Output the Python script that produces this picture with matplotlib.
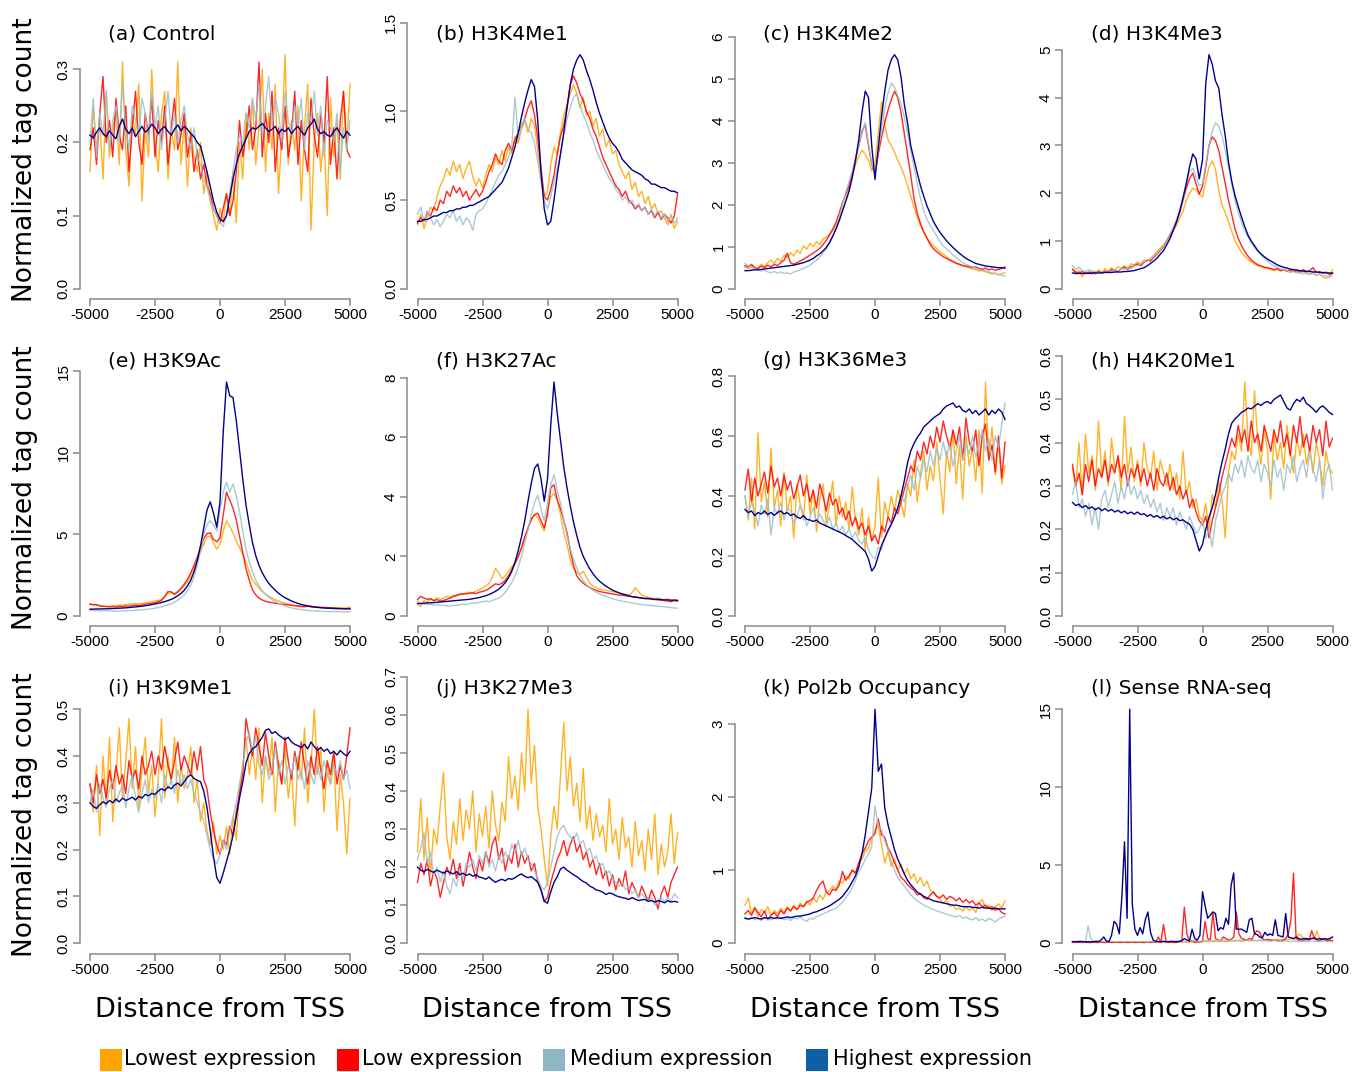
import numpy as np
import matplotlib
matplotlib.use("Agg")
import matplotlib.pyplot as plt
from matplotlib.patches import Rectangle
from matplotlib.ticker import FormatStrFormatter

plt.rcParams['axes.unicode_minus'] = False

# ---------------- data (x grid = -5000..5000 evenly) -------------
# (a) Control
a_lowest = [0.16,0.25,0.19,0.23,0.15,0.27,0.18,0.22,0.24,0.17,
            0.31,0.19,0.14,0.24,0.21,0.28,0.12,0.22,0.18,0.30,
            0.20,0.16,0.24,0.27,0.15,0.22,0.19,0.31,0.17,0.23,
            0.14,0.22,0.18,0.16,0.20,0.13,0.16,0.12,0.10,0.08,
            0.11,0.09,0.13,0.10,0.16,0.09,0.20,0.15,0.24,0.19,
            0.26,0.17,0.22,0.30,0.16,0.24,0.19,0.28,0.13,0.21,
            0.32,0.17,0.23,0.19,0.25,0.12,0.22,0.28,0.08,0.20,
            0.24,0.16,0.21,0.10,0.26,0.18,0.23,0.15,0.27,0.19,0.28]
a_low = [0.19,0.22,0.17,0.24,0.29,0.20,0.23,0.18,0.26,0.21,
         0.19,0.25,0.16,0.22,0.27,0.20,0.17,0.24,0.21,0.26,
         0.18,0.23,0.20,0.25,0.17,0.22,0.26,0.19,0.21,0.24,
         0.18,0.21,0.16,0.19,0.15,0.17,0.14,0.13,0.11,0.10,
         0.09,0.11,0.13,0.10,0.12,0.16,0.23,0.18,0.21,0.25,
         0.19,0.22,0.31,0.18,0.24,0.20,0.27,0.16,0.22,0.19,
         0.25,0.18,0.21,0.27,0.17,0.23,0.19,0.16,0.26,0.21,
         0.18,0.24,0.20,0.29,0.17,0.22,0.15,0.23,0.27,0.19,0.18]
a_medium = [0.20,0.26,0.18,0.24,0.21,0.27,0.19,0.23,0.25,0.20,
            0.28,0.22,0.19,0.25,0.23,0.21,0.26,0.24,0.20,0.27,
            0.22,0.25,0.19,0.23,0.27,0.21,0.24,0.20,0.23,0.25,
            0.21,0.19,0.22,0.18,0.17,0.15,0.14,0.12,0.11,0.10,
            0.09,0.085,0.10,0.13,0.16,0.19,0.21,0.20,0.24,0.22,
            0.26,0.23,0.28,0.21,0.25,0.29,0.22,0.26,0.24,0.20,
            0.27,0.23,0.21,0.25,0.22,0.26,0.19,0.24,0.23,0.27,
            0.21,0.25,0.18,0.23,0.22,0.20,0.24,0.16,0.22,0.19,0.23]
a_highest = [0.210,0.206,0.214,0.220,0.212,0.208,0.216,0.210,0.205,0.222,
             0.232,0.218,0.212,0.220,0.208,0.215,0.222,0.214,0.218,0.225,
             0.220,0.212,0.218,0.222,0.215,0.210,0.218,0.224,0.216,0.222,
             0.218,0.212,0.208,0.200,0.195,0.178,0.160,0.140,0.120,0.105,
             0.095,0.092,0.100,0.125,0.150,0.170,0.185,0.195,0.205,0.215,
             0.220,0.218,0.222,0.226,0.220,0.215,0.218,0.222,0.212,0.218,
             0.215,0.220,0.212,0.218,0.222,0.215,0.210,0.220,0.225,0.232,
             0.218,0.212,0.215,0.210,0.208,0.215,0.220,0.212,0.206,0.215,0.210]

# (b) H3K4Me1
b_lowest = [0.36,0.42,0.34,0.40,0.46,0.44,0.52,0.58,0.62,0.68,
            0.64,0.72,0.66,0.70,0.62,0.68,0.72,0.63,0.58,0.62,
            0.57,0.64,0.70,0.66,0.74,0.70,0.78,0.72,0.80,0.76,
            0.86,0.82,0.90,0.95,0.88,0.96,0.92,0.78,0.62,0.52,
            0.55,0.70,0.80,0.76,0.88,0.98,1.04,1.10,1.15,1.10,
            1.02,1.08,0.98,1.00,0.92,0.96,0.86,0.90,0.80,0.84,
            0.76,0.78,0.70,0.66,0.62,0.66,0.56,0.60,0.52,0.55,
            0.48,0.52,0.45,0.48,0.42,0.44,0.40,0.36,0.42,0.34,0.38]
b_low = [0.37,0.40,0.38,0.43,0.41,0.46,0.44,0.50,0.48,0.55,
         0.52,0.58,0.54,0.57,0.52,0.55,0.50,0.53,0.56,0.52,
         0.55,0.60,0.66,0.70,0.76,0.72,0.70,0.78,0.82,0.78,
         0.84,0.88,0.92,0.96,1.02,1.06,0.98,0.85,0.68,0.52,
         0.50,0.56,0.64,0.76,0.86,0.92,1.02,1.15,1.20,1.16,
         1.10,1.06,1.00,0.96,0.90,0.86,0.80,0.74,0.70,0.66,
         0.62,0.58,0.56,0.52,0.55,0.50,0.48,0.45,0.47,0.44,
         0.46,0.42,0.44,0.40,0.43,0.39,0.42,0.40,0.37,0.41,0.53]
b_medium = [0.42,0.46,0.38,0.44,0.40,0.36,0.39,0.35,0.38,0.42,
            0.40,0.44,0.38,0.41,0.36,0.40,0.38,0.33,0.42,0.44,
            0.45,0.48,0.52,0.56,0.60,0.64,0.66,0.70,0.74,0.80,
            1.08,0.84,0.92,0.96,0.90,0.88,0.82,0.72,0.60,0.50,
            0.45,0.52,0.60,0.68,0.76,0.86,0.96,1.02,1.08,1.10,
            1.04,0.98,0.94,0.88,0.84,0.78,0.74,0.70,0.66,0.62,
            0.60,0.56,0.54,0.50,0.52,0.48,0.50,0.46,0.48,0.44,
            0.46,0.42,0.45,0.41,0.44,0.40,0.42,0.38,0.41,0.37,0.40]
b_highest = [0.38,0.38,0.39,0.39,0.40,0.41,0.41,0.42,0.43,0.43,
             0.44,0.44,0.45,0.45,0.46,0.46,0.47,0.47,0.48,0.49,
             0.50,0.51,0.52,0.54,0.56,0.58,0.60,0.64,0.68,0.74,
             0.80,0.88,0.97,1.05,1.12,1.18,1.14,0.95,0.66,0.45,
             0.36,0.38,0.50,0.64,0.76,0.88,1.02,1.15,1.24,1.29,
             1.32,1.29,1.23,1.18,1.12,1.05,0.99,0.94,0.89,0.85,
             0.82,0.80,0.77,0.73,0.71,0.69,0.67,0.66,0.65,0.64,
             0.62,0.61,0.59,0.59,0.58,0.57,0.57,0.56,0.55,0.55,0.54]

# (c) H3K4Me2
c_lowest = [0.52,0.48,0.55,0.45,0.50,0.58,0.52,0.62,0.68,0.60,
            0.72,0.66,0.80,0.74,0.86,0.78,0.92,0.84,1.02,0.94,
            1.08,1.00,1.12,1.05,1.18,1.22,1.30,1.38,1.50,1.65,
            1.85,2.10,2.35,2.65,2.95,3.15,3.30,3.20,3.05,2.80,
            3.00,3.70,4.45,3.90,3.55,3.40,3.25,3.05,2.90,2.70,
            2.45,2.20,1.95,1.70,1.50,1.35,1.20,1.10,1.02,0.95,
            0.88,0.82,0.76,0.70,0.66,0.62,0.58,0.55,0.52,0.50,
            0.47,0.45,0.42,0.44,0.40,0.38,0.35,0.37,0.33,0.36,0.38]
c_low = [0.55,0.52,0.58,0.50,0.48,0.54,0.50,0.56,0.52,0.58,
         0.55,0.62,0.68,0.84,0.62,0.58,0.62,0.66,0.70,0.75,
         0.80,0.85,0.90,0.96,1.05,1.15,1.28,1.42,1.58,1.80,
         2.05,2.25,2.45,2.75,3.10,3.40,3.75,3.90,3.40,2.95,
         2.75,3.20,3.60,3.95,4.25,4.50,4.70,4.55,4.20,3.70,
         3.20,2.70,2.15,1.80,1.55,1.35,1.20,1.05,0.95,0.88,
         0.82,0.76,0.72,0.68,0.64,0.60,0.58,0.55,0.54,0.52,
         0.50,0.52,0.48,0.46,0.49,0.45,0.47,0.44,0.46,0.48,0.52]
c_medium = [0.60,0.55,0.50,0.48,0.45,0.42,0.44,0.40,0.38,0.41,
            0.37,0.40,0.36,0.38,0.35,0.40,0.42,0.45,0.48,0.52,
            0.56,0.62,0.68,0.76,0.85,0.95,1.08,1.25,1.45,1.70,
            2.00,2.30,2.55,2.80,3.10,3.40,3.70,3.95,3.45,2.95,
            2.80,3.30,3.80,4.30,4.65,4.90,4.80,4.60,4.40,4.10,
            3.70,3.30,2.90,2.50,2.15,1.85,1.65,1.50,1.38,1.25,
            1.12,1.02,0.95,0.88,0.80,0.74,0.68,0.62,0.58,0.55,
            0.52,0.48,0.45,0.42,0.44,0.40,0.38,0.36,0.34,0.32,0.30]
c_highest = [0.43,0.43,0.44,0.45,0.45,0.46,0.47,0.48,0.49,0.50,
             0.51,0.52,0.53,0.54,0.55,0.56,0.58,0.60,0.62,0.65,
             0.68,0.72,0.78,0.83,0.90,0.98,1.10,1.25,1.42,1.62,
             1.85,2.08,2.32,2.65,3.05,3.55,4.20,4.70,4.55,3.40,
             2.60,3.35,4.10,4.70,5.20,5.45,5.57,5.45,5.05,4.40,
             3.95,3.40,3.08,2.75,2.45,2.20,1.97,1.78,1.60,1.46,
             1.34,1.24,1.14,1.06,0.98,0.91,0.84,0.78,0.72,0.68,
             0.64,0.60,0.58,0.56,0.54,0.53,0.52,0.51,0.50,0.50,0.49]

# (d) H3K4Me3
d_lowest = [0.42,0.30,0.38,0.25,0.35,0.32,0.38,0.30,0.40,0.34,
            0.42,0.36,0.44,0.38,0.46,0.42,0.48,0.44,0.52,0.50,
            0.56,0.52,0.60,0.58,0.64,0.70,0.78,0.85,0.92,1.02,
            1.12,1.22,1.32,1.48,1.62,1.85,2.00,2.10,2.08,1.98,
            1.92,2.25,2.55,2.68,2.50,2.05,1.75,1.60,1.40,1.20,
            1.00,0.88,0.76,0.68,0.62,0.56,0.52,0.48,0.46,0.44,
            0.42,0.40,0.38,0.41,0.37,0.40,0.36,0.34,0.38,0.35,
            0.33,0.36,0.32,0.30,0.34,0.28,0.31,0.26,0.22,0.25,0.40]
d_low = [0.40,0.35,0.33,0.36,0.32,0.35,0.31,0.34,0.36,0.33,
         0.37,0.35,0.40,0.38,0.36,0.42,0.45,0.40,0.46,0.48,
         0.52,0.48,0.55,0.60,0.58,0.66,0.72,0.80,0.88,1.00,
         1.12,1.25,1.40,1.60,1.85,2.10,2.30,2.42,2.20,1.98,
         2.15,2.55,3.00,3.18,3.10,2.90,2.55,2.20,1.85,1.55,
         1.25,1.05,0.90,0.78,0.68,0.60,0.55,0.50,0.48,0.45,
         0.44,0.42,0.40,0.42,0.38,0.40,0.37,0.39,0.36,0.38,
         0.35,0.40,0.36,0.38,0.44,0.34,0.36,0.32,0.35,0.30,0.32]
d_medium = [0.48,0.40,0.45,0.38,0.36,0.40,0.34,0.37,0.33,0.36,
            0.34,0.38,0.35,0.40,0.37,0.42,0.40,0.44,0.42,0.48,
            0.48,0.52,0.56,0.58,0.62,0.68,0.74,0.82,0.90,1.00,
            1.15,1.28,1.45,1.65,1.90,2.20,2.45,2.52,2.35,2.15,
            2.20,2.60,3.00,3.30,3.48,3.40,3.20,2.90,2.55,2.20,
            1.85,1.60,1.40,1.22,1.08,0.96,0.86,0.78,0.70,0.64,
            0.58,0.52,0.48,0.45,0.42,0.40,0.38,0.35,0.36,0.33,
            0.34,0.31,0.33,0.30,0.32,0.28,0.30,0.26,0.28,0.24,0.29]
d_highest = [0.33,0.32,0.32,0.32,0.32,0.32,0.33,0.33,0.33,0.33,
             0.34,0.34,0.34,0.35,0.35,0.35,0.36,0.36,0.37,0.38,
             0.40,0.42,0.44,0.48,0.53,0.58,0.64,0.72,0.80,0.92,
             1.05,1.22,1.40,1.62,1.90,2.20,2.55,2.82,2.72,2.30,
             2.70,4.30,4.90,4.70,4.35,4.20,3.65,3.20,2.65,2.25,
             1.95,1.72,1.50,1.30,1.12,1.00,0.90,0.80,0.73,0.67,
             0.62,0.58,0.54,0.50,0.47,0.45,0.43,0.41,0.40,0.39,
             0.38,0.37,0.36,0.36,0.35,0.35,0.34,0.34,0.33,0.33,0.33]

# (e) H3K9Ac
e_lowest = [0.75,0.72,0.68,0.64,0.60,0.58,0.60,0.62,0.64,0.66,
            0.68,0.70,0.72,0.74,0.76,0.74,0.78,0.80,0.84,0.88,
            0.92,0.96,1.02,1.15,1.40,1.42,1.30,1.45,1.65,1.85,
            2.10,2.45,2.90,3.40,3.95,4.40,4.85,4.90,4.50,4.10,
            4.40,5.20,5.85,5.50,5.10,4.60,4.20,3.80,3.30,2.70,
            2.20,1.95,1.70,1.50,1.35,1.20,1.10,1.00,0.92,0.85,
            0.78,0.72,0.68,0.64,0.60,0.58,0.56,0.60,0.62,0.58,
            0.55,0.52,0.50,0.52,0.48,0.50,0.47,0.49,0.46,0.50,0.55]
e_low = [0.72,0.68,0.70,0.62,0.60,0.58,0.56,0.58,0.55,0.60,
         0.58,0.62,0.60,0.64,0.66,0.65,0.68,0.72,0.75,0.78,
         0.82,0.88,0.95,1.20,1.50,1.48,1.35,1.50,1.70,1.95,
         2.25,2.65,3.10,3.60,4.20,4.75,5.05,5.10,4.70,4.55,
         4.80,6.20,7.60,7.10,6.60,5.90,4.90,3.90,2.90,2.20,
         1.60,1.30,1.10,0.98,0.90,0.85,0.82,0.78,0.76,0.72,
         0.70,0.68,0.66,0.63,0.62,0.60,0.58,0.60,0.57,0.55,
         0.54,0.52,0.53,0.50,0.51,0.49,0.48,0.47,0.46,0.45,0.46]
e_medium = [0.35,0.33,0.34,0.32,0.33,0.31,0.32,0.30,0.31,0.30,
            0.32,0.31,0.33,0.34,0.35,0.36,0.38,0.40,0.42,0.45,
            0.48,0.52,0.56,0.62,0.68,0.75,0.85,0.98,1.12,1.30,
            1.55,1.90,2.40,3.10,4.00,5.00,5.60,5.85,5.60,5.20,
            6.50,7.60,8.20,7.60,8.10,7.40,6.40,5.20,4.10,3.30,
            2.70,2.20,1.85,1.55,1.32,1.15,1.00,0.88,0.78,0.70,
            0.62,0.55,0.50,0.46,0.42,0.39,0.36,0.34,0.32,0.31,
            0.30,0.29,0.28,0.28,0.27,0.27,0.26,0.26,0.25,0.25,0.25]
e_highest = [0.42,0.42,0.43,0.43,0.44,0.44,0.45,0.46,0.47,0.48,
             0.49,0.50,0.52,0.54,0.56,0.58,0.60,0.63,0.66,0.70,
             0.74,0.78,0.83,0.88,0.95,1.02,1.12,1.24,1.38,1.58,
             1.85,2.20,2.70,3.40,4.30,5.40,6.50,7.00,6.30,5.45,
             7.00,11.30,14.35,13.50,13.40,12.00,10.20,8.40,6.80,5.60,
             4.50,3.70,3.10,2.65,2.30,2.00,1.78,1.58,1.40,1.25,
             1.12,1.02,0.92,0.84,0.77,0.71,0.66,0.62,0.58,0.55,
             0.53,0.51,0.49,0.48,0.47,0.46,0.45,0.45,0.44,0.44,0.44]

# (f) H3K27Ac
f_lowest = [0.40,0.32,0.52,0.45,0.58,0.50,0.62,0.55,0.60,0.66,
            0.62,0.70,0.66,0.75,0.72,0.78,0.80,0.76,0.84,0.88,
            0.95,1.00,1.10,1.30,1.60,1.45,1.25,1.35,1.50,1.65,
            1.80,2.00,2.25,2.60,2.95,3.20,3.40,3.30,3.05,2.85,
            3.55,4.00,4.10,3.90,3.40,2.80,2.40,1.90,1.60,1.45,
            1.40,1.50,1.30,1.10,1.00,0.95,0.90,0.88,0.86,0.84,
            0.82,0.80,0.76,0.74,0.72,0.70,0.78,0.95,0.82,0.70,
            0.66,0.62,0.60,0.58,0.60,0.56,0.55,0.58,0.52,0.55,0.54]
f_low = [0.55,0.66,0.60,0.56,0.58,0.52,0.55,0.50,0.52,0.56,
         0.60,0.65,0.70,0.72,0.75,0.74,0.76,0.78,0.75,0.80,
         0.82,0.86,0.92,1.00,1.08,1.05,1.10,1.20,1.35,1.55,
         1.75,2.00,2.30,2.65,2.95,3.25,3.40,3.45,3.20,2.95,
         3.40,4.30,4.40,3.90,3.60,3.20,2.80,2.20,1.70,1.35,
         1.20,1.10,1.02,0.96,0.90,0.86,0.82,0.80,0.78,0.76,
         0.74,0.72,0.70,0.70,0.68,0.66,0.65,0.64,0.62,0.60,
         0.58,0.60,0.57,0.55,0.54,0.53,0.52,0.50,0.48,0.52,0.50]
f_medium = [0.50,0.42,0.40,0.38,0.40,0.36,0.38,0.35,0.36,0.34,
            0.33,0.36,0.35,0.38,0.40,0.38,0.42,0.44,0.43,0.46,
            0.48,0.50,0.48,0.52,0.56,0.60,0.68,0.80,0.95,1.12,
            1.35,1.65,2.00,2.45,2.90,3.40,3.80,4.05,3.60,3.20,
            3.80,4.40,4.75,4.20,3.80,3.20,2.70,2.25,1.90,1.60,
            1.35,1.18,1.05,0.95,0.86,0.80,0.74,0.70,0.66,0.62,
            0.58,0.55,0.52,0.50,0.48,0.46,0.44,0.42,0.40,0.38,
            0.37,0.36,0.35,0.34,0.33,0.32,0.31,0.30,0.28,0.27,0.26]
f_highest = [0.42,0.42,0.43,0.44,0.44,0.45,0.46,0.47,0.48,0.49,
             0.50,0.51,0.52,0.53,0.54,0.55,0.56,0.58,0.60,0.62,
             0.65,0.68,0.72,0.77,0.83,0.90,1.00,1.12,1.28,1.50,
             1.80,2.20,2.65,3.20,3.85,4.45,4.95,5.10,4.60,3.85,
             4.60,6.40,7.85,6.80,5.90,5.00,4.30,3.70,3.15,2.70,
             2.30,2.00,1.78,1.58,1.42,1.28,1.17,1.08,1.00,0.93,
             0.87,0.82,0.78,0.74,0.71,0.68,0.65,0.63,0.62,0.60,
             0.59,0.58,0.57,0.56,0.56,0.55,0.54,0.54,0.53,0.53,0.52]

# (g) H3K36Me3
g_lowest = [0.40,0.32,0.46,0.29,0.61,0.38,0.45,0.33,0.56,0.36,
            0.42,0.30,0.48,0.35,0.40,0.26,0.44,0.37,0.32,0.47,
            0.34,0.42,0.28,0.39,0.44,0.31,0.37,0.45,0.30,0.40,
            0.33,0.38,0.29,0.43,0.32,0.27,0.36,0.22,0.33,0.25,
            0.30,0.46,0.26,0.38,0.33,0.40,0.35,0.42,0.38,0.33,
            0.44,0.40,0.52,0.38,0.47,0.55,0.42,0.50,0.45,0.58,
            0.46,0.34,0.55,0.48,0.62,0.44,0.57,0.39,0.60,0.50,
            0.56,0.45,0.62,0.41,0.78,0.52,0.63,0.47,0.58,0.44,0.50]
g_low = [0.42,0.49,0.38,0.46,0.40,0.44,0.48,0.41,0.50,0.43,
         0.46,0.40,0.47,0.42,0.45,0.39,0.43,0.47,0.40,0.44,
         0.38,0.42,0.36,0.44,0.40,0.35,0.41,0.37,0.39,0.34,
         0.36,0.32,0.35,0.30,0.33,0.29,0.31,0.27,0.30,0.25,
         0.27,0.24,0.30,0.28,0.33,0.31,0.36,0.34,0.38,0.42,
         0.46,0.50,0.48,0.55,0.52,0.58,0.54,0.60,0.56,0.63,
         0.58,0.65,0.60,0.56,0.62,0.57,0.63,0.52,0.66,0.58,
         0.55,0.62,0.50,0.60,0.64,0.52,0.57,0.48,0.60,0.46,0.58]
g_medium = [0.40,0.33,0.38,0.35,0.30,0.37,0.34,0.39,0.27,0.36,
            0.34,0.38,0.32,0.36,0.35,0.31,0.33,0.37,0.34,0.30,
            0.33,0.36,0.31,0.34,0.32,0.30,0.33,0.29,0.31,0.28,
            0.30,0.27,0.29,0.26,0.28,0.25,0.24,0.26,0.22,0.20,
            0.19,0.23,0.22,0.26,0.28,0.31,0.33,0.36,0.40,0.38,
            0.43,0.47,0.42,0.50,0.46,0.52,0.48,0.55,0.50,0.56,
            0.52,0.58,0.53,0.57,0.50,0.55,0.60,0.52,0.57,0.54,
            0.60,0.53,0.58,0.62,0.55,0.59,0.52,0.60,0.56,0.64,0.71]
g_highest = [0.355,0.345,0.350,0.335,0.345,0.340,0.350,0.338,0.345,0.335,
             0.345,0.350,0.340,0.345,0.335,0.340,0.330,0.325,0.335,0.322,
             0.320,0.315,0.320,0.310,0.305,0.300,0.295,0.290,0.285,0.280,
             0.275,0.268,0.262,0.255,0.245,0.235,0.225,0.215,0.190,0.150,
             0.165,0.200,0.235,0.260,0.285,0.305,0.330,0.360,0.400,0.450,
             0.510,0.550,0.575,0.595,0.610,0.630,0.640,0.650,0.660,0.668,
             0.675,0.690,0.700,0.705,0.710,0.695,0.700,0.685,0.680,0.690,
             0.675,0.685,0.670,0.680,0.690,0.670,0.685,0.675,0.690,0.680,0.655]

# (h) H4K20Me1
h_lowest = [0.34,0.30,0.40,0.28,0.42,0.33,0.37,0.29,0.45,0.32,
            0.38,0.30,0.41,0.34,0.36,0.29,0.46,0.33,0.39,0.31,
            0.36,0.30,0.40,0.34,0.32,0.38,0.29,0.36,0.33,0.30,
            0.35,0.29,0.33,0.27,0.38,0.28,0.31,0.25,0.27,0.23,
            0.22,0.26,0.20,0.28,0.25,0.31,0.27,0.18,0.33,0.38,
            0.36,0.42,0.38,0.54,0.41,0.37,0.52,0.40,0.35,0.43,
            0.38,0.27,0.42,0.36,0.40,0.34,0.44,0.38,0.33,0.41,
            0.37,0.42,0.35,0.39,0.33,0.40,0.36,0.30,0.38,0.34,0.33]
h_low = [0.35,0.30,0.33,0.28,0.35,0.31,0.36,0.30,0.34,0.32,
         0.36,0.31,0.35,0.33,0.37,0.32,0.35,0.30,0.34,0.32,
         0.35,0.31,0.34,0.30,0.33,0.29,0.34,0.31,0.30,0.33,
         0.29,0.32,0.28,0.30,0.27,0.29,0.25,0.27,0.24,0.22,
         0.21,0.23,0.18,0.22,0.25,0.28,0.32,0.35,0.38,0.41,
         0.39,0.44,0.40,0.43,0.38,0.45,0.40,0.42,0.38,0.44,
         0.41,0.38,0.43,0.40,0.45,0.39,0.42,0.37,0.44,0.40,
         0.46,0.39,0.42,0.38,0.44,0.40,0.43,0.37,0.45,0.39,0.41]
h_medium = [0.28,0.31,0.25,0.27,0.23,0.26,0.21,0.25,0.20,0.27,
            0.29,0.25,0.28,0.31,0.26,0.30,0.27,0.32,0.28,0.30,
            0.27,0.29,0.26,0.28,0.25,0.27,0.24,0.26,0.22,0.25,
            0.23,0.25,0.21,0.24,0.22,0.20,0.23,0.21,0.19,0.20,
            0.22,0.18,0.20,0.16,0.22,0.25,0.28,0.30,0.33,0.31,
            0.35,0.33,0.36,0.32,0.37,0.34,0.33,0.36,0.31,0.35,
            0.33,0.30,0.36,0.32,0.34,0.29,0.35,0.33,0.37,0.31,
            0.34,0.36,0.32,0.38,0.34,0.31,0.36,0.27,0.33,0.35,0.29]
h_highest = [0.262,0.255,0.258,0.250,0.255,0.248,0.252,0.245,0.250,0.243,
             0.248,0.242,0.246,0.240,0.244,0.238,0.242,0.236,0.240,0.235,
             0.240,0.234,0.236,0.230,0.234,0.228,0.232,0.226,0.230,0.224,
             0.228,0.222,0.226,0.220,0.222,0.216,0.212,0.200,0.175,0.150,
             0.165,0.200,0.228,0.250,0.280,0.320,0.355,0.385,0.420,0.445,
             0.455,0.462,0.470,0.474,0.480,0.478,0.484,0.490,0.486,0.492,
             0.495,0.490,0.500,0.505,0.510,0.495,0.480,0.475,0.490,0.500,
             0.495,0.505,0.490,0.485,0.478,0.470,0.480,0.485,0.478,0.470,0.465]

# (i) H3K9Me1
i_lowest = [0.34,0.28,0.38,0.23,0.40,0.30,0.44,0.26,0.36,0.46,
            0.31,0.39,0.48,0.33,0.42,0.29,0.37,0.44,0.32,0.38,
            0.27,0.35,0.48,0.31,0.40,0.34,0.44,0.30,0.38,0.33,
            0.36,0.42,0.30,0.35,0.26,0.30,0.24,0.21,0.26,0.19,
            0.23,0.20,0.25,0.19,0.27,0.22,0.33,0.38,0.44,0.36,
            0.42,0.35,0.46,0.30,0.40,0.36,0.44,0.28,0.39,0.34,
            0.42,0.31,0.37,0.25,0.40,0.35,0.46,0.30,0.38,0.50,
            0.36,0.42,0.28,0.38,0.34,0.40,0.24,0.36,0.30,0.19,0.31]
i_low = [0.34,0.30,0.36,0.32,0.35,0.31,0.37,0.33,0.38,0.34,
         0.36,0.32,0.39,0.35,0.37,0.33,0.40,0.36,0.38,0.41,
         0.36,0.40,0.37,0.42,0.38,0.35,0.39,0.43,0.37,0.40,
         0.38,0.36,0.41,0.37,0.42,0.35,0.33,0.28,0.24,0.21,
         0.19,0.22,0.21,0.25,0.23,0.28,0.32,0.36,0.48,0.44,
         0.40,0.46,0.42,0.38,0.45,0.40,0.36,0.43,0.38,0.34,
         0.44,0.39,0.35,0.41,0.37,0.43,0.38,0.34,0.40,0.36,
         0.42,0.37,0.33,0.39,0.36,0.41,0.34,0.38,0.35,0.40,0.46]
i_medium = [0.30,0.33,0.28,0.34,0.31,0.29,0.33,0.35,0.30,0.32,
            0.34,0.29,0.33,0.36,0.31,0.28,0.32,0.35,0.30,0.33,
            0.31,0.34,0.30,0.36,0.33,0.35,0.32,0.37,0.34,0.36,
            0.33,0.35,0.32,0.30,0.28,0.26,0.23,0.20,0.18,0.17,
            0.19,0.22,0.20,0.24,0.27,0.30,0.34,0.38,0.43,0.45,
            0.41,0.44,0.38,0.36,0.40,0.35,0.37,0.42,0.36,0.39,
            0.34,0.38,0.36,0.40,0.35,0.37,0.33,0.39,0.36,0.34,
            0.38,0.35,0.39,0.36,0.34,0.38,0.36,0.39,0.35,0.37,0.33]
i_highest = [0.300,0.292,0.288,0.296,0.302,0.298,0.305,0.300,0.308,0.302,
             0.310,0.305,0.308,0.312,0.306,0.314,0.310,0.318,0.315,0.320,
             0.318,0.325,0.330,0.326,0.334,0.330,0.338,0.342,0.336,0.345,
             0.355,0.360,0.352,0.348,0.345,0.325,0.290,0.240,0.185,0.140,
             0.128,0.150,0.175,0.200,0.230,0.270,0.310,0.345,0.385,0.405,
             0.415,0.420,0.430,0.440,0.455,0.458,0.448,0.452,0.445,0.440,
             0.435,0.440,0.430,0.425,0.422,0.418,0.425,0.415,0.430,0.420,
             0.412,0.418,0.410,0.415,0.405,0.410,0.402,0.412,0.405,0.400,0.410]

# (j) H3K27Me3
j_lowest = [0.24,0.38,0.22,0.33,0.18,0.30,0.26,0.36,0.45,0.28,
            0.22,0.32,0.26,0.38,0.27,0.35,0.30,0.40,0.24,0.34,
            0.28,0.36,0.25,0.40,0.31,0.27,0.37,0.32,0.49,0.38,
            0.44,0.35,0.50,0.40,0.615,0.42,0.52,0.36,0.30,0.22,
            0.15,0.28,0.36,0.30,0.44,0.58,0.40,0.49,0.36,0.42,
            0.32,0.46,0.30,0.36,0.27,0.34,0.28,0.31,0.24,0.38,
            0.26,0.30,0.22,0.33,0.25,0.28,0.20,0.32,0.23,0.27,
            0.19,0.30,0.22,0.34,0.18,0.26,0.20,0.24,0.34,0.21,0.29]
j_low = [0.16,0.21,0.18,0.22,0.15,0.19,0.17,0.12,0.16,0.20,
         0.18,0.22,0.17,0.21,0.15,0.19,0.24,0.20,0.17,0.22,
         0.19,0.24,0.21,0.26,0.28,0.22,0.25,0.19,0.23,0.21,
         0.26,0.20,0.24,0.21,0.23,0.19,0.21,0.16,0.14,0.11,
         0.12,0.16,0.19,0.22,0.24,0.27,0.23,0.26,0.28,0.24,
         0.26,0.22,0.24,0.20,0.22,0.18,0.21,0.17,0.19,0.15,
         0.18,0.14,0.17,0.15,0.19,0.13,0.16,0.14,0.12,0.15,
         0.13,0.11,0.14,0.12,0.09,0.13,0.15,0.12,0.16,0.18,0.20]
j_medium = [0.22,0.25,0.29,0.21,0.24,0.18,0.20,0.16,0.19,0.15,
            0.13,0.17,0.15,0.19,0.17,0.21,0.20,0.22,0.19,0.23,
            0.21,0.24,0.20,0.22,0.19,0.23,0.21,0.24,0.22,0.26,
            0.24,0.27,0.23,0.25,0.22,0.21,0.19,0.17,0.15,0.14,
            0.16,0.20,0.24,0.28,0.30,0.31,0.29,0.28,0.27,0.29,
            0.26,0.27,0.24,0.25,0.22,0.23,0.20,0.21,0.18,0.19,
            0.17,0.16,0.15,0.16,0.14,0.15,0.13,0.14,0.12,0.13,
            0.12,0.11,0.12,0.10,0.11,0.12,0.11,0.12,0.11,0.13,0.12]
j_highest = [0.200,0.192,0.188,0.194,0.190,0.186,0.192,0.188,0.184,0.190,
             0.186,0.182,0.188,0.180,0.184,0.178,0.182,0.176,0.180,0.174,
             0.172,0.168,0.174,0.166,0.160,0.165,0.168,0.164,0.170,0.168,
             0.172,0.178,0.182,0.176,0.172,0.175,0.168,0.160,0.140,0.110,
             0.105,0.135,0.160,0.175,0.195,0.200,0.192,0.186,0.180,0.175,
             0.168,0.162,0.158,0.150,0.146,0.140,0.138,0.134,0.128,0.132,
             0.130,0.125,0.122,0.120,0.118,0.115,0.120,0.116,0.112,0.114,
             0.115,0.110,0.112,0.108,0.112,0.110,0.106,0.112,0.108,0.110,0.108]

# (k) Pol2b Occupancy
k_lowest = [0.52,0.62,0.40,0.50,0.36,0.46,0.42,0.50,0.38,0.45,
            0.40,0.48,0.42,0.50,0.44,0.52,0.46,0.55,0.50,0.58,
            0.52,0.62,0.56,0.66,0.60,0.70,0.72,0.78,0.74,0.85,
            0.82,0.92,0.88,1.00,0.95,1.10,1.15,1.25,1.30,1.42,
            1.55,1.60,1.35,1.10,1.25,1.05,1.15,1.00,1.08,0.95,
            1.02,0.88,0.95,0.82,0.90,0.78,0.85,0.72,0.70,0.64,
            0.60,0.55,0.58,0.50,0.52,0.46,0.48,0.44,0.50,0.45,
            0.48,0.42,0.55,0.60,0.48,0.52,0.45,0.50,0.54,0.48,0.58]
k_low = [0.40,0.45,0.38,0.48,0.42,0.36,0.44,0.32,0.38,0.42,
         0.36,0.45,0.40,0.48,0.44,0.50,0.46,0.52,0.50,0.56,
         0.58,0.62,0.72,0.80,0.85,0.70,0.66,0.74,0.72,0.80,
         0.98,0.86,0.92,1.00,0.96,1.10,1.22,1.30,1.40,1.45,
         1.50,1.70,1.48,1.45,1.30,1.22,1.10,1.00,0.90,0.86,
         0.80,0.76,0.72,0.66,0.68,0.62,0.60,0.66,0.70,0.64,
         0.62,0.66,0.60,0.64,0.62,0.58,0.62,0.56,0.60,0.55,
         0.58,0.52,0.55,0.50,0.52,0.48,0.50,0.45,0.47,0.42,0.40]
k_medium = [0.36,0.33,0.35,0.32,0.34,0.31,0.35,0.33,0.32,0.34,
            0.33,0.35,0.32,0.34,0.31,0.35,0.33,0.36,0.32,0.30,
            0.34,0.33,0.36,0.38,0.40,0.42,0.44,0.46,0.48,0.52,
            0.56,0.62,0.68,0.76,0.86,0.98,1.05,1.15,1.22,1.32,
            1.88,1.60,1.55,1.40,1.28,1.12,1.00,0.90,0.84,0.78,
            0.72,0.66,0.62,0.58,0.55,0.52,0.50,0.48,0.46,0.44,
            0.43,0.41,0.40,0.38,0.37,0.36,0.38,0.34,0.36,0.33,
            0.32,0.35,0.31,0.33,0.30,0.34,0.32,0.29,0.33,0.35,0.37]
k_highest = [0.34,0.33,0.34,0.35,0.34,0.33,0.35,0.34,0.35,0.34,
             0.35,0.34,0.35,0.36,0.35,0.36,0.37,0.37,0.38,0.39,
             0.40,0.42,0.43,0.45,0.47,0.49,0.51,0.54,0.57,0.60,
             0.64,0.70,0.76,0.84,0.92,1.04,1.22,1.48,1.80,2.12,
             3.20,2.35,2.45,1.85,1.62,1.45,1.28,1.15,1.05,0.95,
             0.86,0.80,0.75,0.70,0.67,0.64,0.62,0.60,0.58,0.57,
             0.56,0.55,0.54,0.53,0.52,0.52,0.51,0.50,0.50,0.50,
             0.49,0.49,0.48,0.49,0.48,0.48,0.47,0.48,0.47,0.47,0.47]

# (l) Sense RNA-seq (finer grid)
l_lowest = [0.05,0.05,0.06,0.05,0.05,0.06,0.05,0.05,0.06,0.05,
            0.05,0.06,0.05,0.05,0.06,0.05,0.05,0.06,0.05,0.05,
            0.06,0.05,0.05,0.06,0.05,0.05,0.06,0.05,0.05,0.06,
            0.05,0.06,0.05,0.06,0.05,0.06,0.05,0.06,0.05,0.06,
            0.06,0.07,0.06,0.08,0.06,0.07,0.08,0.06,0.10,0.08,
            0.10,0.12,0.10,0.15,0.10,0.12,0.10,0.15,0.12,0.10,
            0.12,0.15,0.12,0.18,0.15,0.12,0.15,0.18,0.15,0.20,
            0.18,0.15,0.20,0.18,0.15,0.20,0.22,0.18,0.20,0.25,
            0.20,0.22,0.25,0.20,0.30,0.25,0.30,0.60,0.50,0.25,
            0.20,0.25,0.30,0.25,0.80,0.30,0.20,0.25,0.20,0.15,0.20]
l_low = [0.05,0.05,0.06,0.05,0.05,0.06,0.05,0.05,0.06,0.05,
         0.05,0.06,0.05,0.05,0.06,0.05,0.05,0.06,0.05,0.05,
         0.06,0.05,0.05,0.06,0.05,0.05,0.06,0.05,0.05,0.10,
         0.05,0.08,0.05,0.40,0.05,1.20,0.10,0.05,0.06,0.05,
         0.05,0.10,0.15,2.30,0.60,0.10,0.15,0.05,0.10,0.08,
         0.12,1.40,0.30,0.20,2.00,0.30,0.20,0.15,0.40,0.30,
         0.20,0.25,0.40,2.00,0.60,0.30,0.25,0.20,0.30,0.25,
         0.60,0.80,0.70,0.30,0.20,0.25,0.20,0.18,0.20,0.15,
         0.15,0.20,0.30,0.60,1.50,4.50,0.30,0.20,0.15,0.20,
         0.25,0.20,0.80,0.30,0.20,0.15,0.30,0.20,0.15,0.20,0.15]
l_medium = [0.10,0.10,0.12,0.10,0.10,0.12,1.10,0.30,0.10,0.12,
            0.10,0.10,0.12,0.10,0.10,0.12,0.10,0.10,0.12,0.10,
            0.10,0.12,0.10,0.10,0.12,0.10,0.10,0.12,0.10,0.10,
            0.12,0.10,0.10,0.12,0.10,0.10,0.12,0.10,0.10,0.12,
            0.12,0.10,0.15,0.12,0.10,0.15,0.12,0.18,0.15,0.12,
            0.15,0.20,0.15,0.18,0.15,0.20,0.18,0.15,0.20,0.18,
            0.15,0.20,0.18,0.15,0.20,0.18,0.15,0.20,0.18,0.15,
            0.18,0.15,0.20,0.15,0.18,0.15,0.12,0.15,0.18,0.12,
            0.15,0.12,0.15,0.12,0.10,0.15,0.12,0.10,0.15,0.12,
            0.10,0.12,0.15,0.10,0.12,0.10,0.12,0.15,0.10,0.12,0.10]
l_highest = [0.10,0.10,0.10,0.12,0.10,0.08,0.10,0.08,0.10,0.12,
             0.10,0.20,0.40,0.15,0.10,0.50,1.40,1.20,0.60,3.00,
             6.50,1.60,15.00,2.50,0.90,0.50,1.00,0.60,1.50,2.00,
             0.70,0.20,0.12,0.10,0.10,0.12,0.10,0.10,0.12,0.10,
             0.10,0.12,0.15,0.30,0.20,0.15,0.90,0.30,0.20,0.50,
             3.30,2.40,1.60,1.80,2.00,1.90,0.80,1.00,0.90,1.60,
             1.20,3.70,4.50,0.90,0.90,0.90,0.80,0.70,1.50,1.60,
             0.60,0.55,0.40,0.35,0.70,0.50,0.60,0.50,1.50,0.50,
             0.45,0.40,1.90,0.40,0.35,0.30,0.40,0.30,0.25,0.30,
             0.30,0.25,0.30,0.35,0.25,0.30,0.25,0.30,0.25,0.30,0.40]

panel_titles = ["(a) Control", "(b) H3K4Me1", "(c) H3K4Me2", "(d) H3K4Me3",
                "(e) H3K9Ac", "(f) H3K27Ac", "(g) H3K36Me3", "(h) H4K20Me1",
                "(i) H3K9Me1", "(j) H3K27Me3", "(k) Pol2b Occupancy", "(l) Sense RNA-seq"]
panel_series = [
    (a_lowest, a_low, a_medium, a_highest), (b_lowest, b_low, b_medium, b_highest),
    (c_lowest, c_low, c_medium, c_highest), (d_lowest, d_low, d_medium, d_highest),
    (e_lowest, e_low, e_medium, e_highest), (f_lowest, f_low, f_medium, f_highest),
    (g_lowest, g_low, g_medium, g_highest), (h_lowest, h_low, h_medium, h_highest),
    (i_lowest, i_low, i_medium, i_highest), (j_lowest, j_low, j_medium, j_highest),
    (k_lowest, k_low, k_medium, k_highest), (l_lowest, l_low, l_medium, l_highest),
]
xticks = [-5000, -2500, 0, 2500, 5000]
xtick_labels = ["-5000", "-2500", "0", "2500", "5000"]
series_names = ["Lowest expression", "Low expression", "Medium expression", "Highest expression"]

# ---------------- style ----------------
ytick_steps = [0.1, 0.5, 1, 1, 5, 2, 0.2, 0.1, 0.1, 0.1, 1, 5]
ytick_fmts = ["%.1f", "%.1f", "%d", "%d", "%d", "%d", "%.1f", "%.1f", "%.1f", "%.1f", "%d", "%d"]
line_colors = ["#FFA500", "#FF0000", "#9AC0CD", "#00008B"]
line_alpha = [0.85, 0.85, 0.85, 1.0]
legend_colors = ["#FFA500", "#FF0000", "#8DB7C5", "#0F5FA8"]
axis_gray = "#8a8a8a"
tick_font = "Liberation Sans"

W, H = 1364, 1072
fig = plt.figure(figsize=(W / 100, H / 100), dpi=100)
row_tops = [21.0, 348.3, 675.5]
ax_h = 278.0
ax_w = 280.8

for k in range(12):
    r, c = divmod(k, 4)
    left = 79.6 + 327.5 * c
    top = row_tops[r]
    ax = fig.add_axes([left / W, 1 - (top + ax_h) / H, ax_w / W, ax_h / H])
    series = panel_series[k]
    M = 1.1 * max(max(s) for s in series)
    for s, col, al in zip(series, line_colors, line_alpha):
        x = np.linspace(-5000, 5000, len(s))
        ax.plot(x, s, color=col, lw=1.0, alpha=al, solid_joinstyle='round')
    ax.set_xlim(-5400, 5400)
    ax.set_ylim(-0.04 * M, 1.04 * M)
    step = ytick_steps[k]
    yt = np.arange(0, 1.04 * M + 1e-9, step)
    ax.set_yticks(yt)
    ax.yaxis.set_major_formatter(FormatStrFormatter(ytick_fmts[k]))
    ax.set_xticks(xticks)
    ax.set_xticklabels(xtick_labels)
    for side in ("top", "right"):
        ax.spines[side].set_visible(False)
    ax.spines["left"].set_bounds(0, yt[-1])
    ax.spines["bottom"].set_bounds(-5000, 5000)
    for side in ("left", "bottom"):
        ax.spines[side].set_color(axis_gray)
        ax.spines[side].set_linewidth(1.1)
    ax.tick_params(axis="both", length=5, width=1.1, color=axis_gray, pad=1.5,
                   labelsize=11)
    ax.tick_params(axis="y", labelrotation=90)
    for lab in ax.get_yticklabels():
        lab.set_va("center")
        lab.set_family(tick_font)
    for lab in ax.get_xticklabels():
        lab.set_family(tick_font)
    ax.patch.set_visible(False)
    ax.text(0.102, 1 - 12.5 / ax_h, panel_titles[k], transform=ax.transAxes,
            ha="left", va="center", fontsize=14.5, family="DejaVu Sans")

# shared labels
for r in range(3):
    yc = row_tops[r] + ax_h / 2
    fig.text(25 / W, 1 - yc / H, "Normalized tag count", rotation=90,
             ha="center", va="center", fontsize=19, family="DejaVu Sans")
for c in range(4):
    xc = 79.6 + 327.5 * c + ax_w / 2
    fig.text(xc / W, 1 - 1010 / H, "Distance from TSS", ha="center", va="center",
             fontsize=19.5, family="DejaVu Sans")

# legend
sq_left = [100, 337, 543, 806]
txt_left = [124, 362, 570, 833]
for name, col, sx, tx in zip(series_names, legend_colors, sq_left, txt_left):
    fig.add_artist(Rectangle((sx / W, 1 - 1071 / H), 22 / W, 22 / H,
                             transform=fig.transFigure, facecolor=col, edgecolor="none"))
    fig.text(tx / W, 1 - 1059 / H, name, ha="left", va="center", fontsize=15,
             family="DejaVu Sans")

fig.savefig("out.png", dpi=100)
